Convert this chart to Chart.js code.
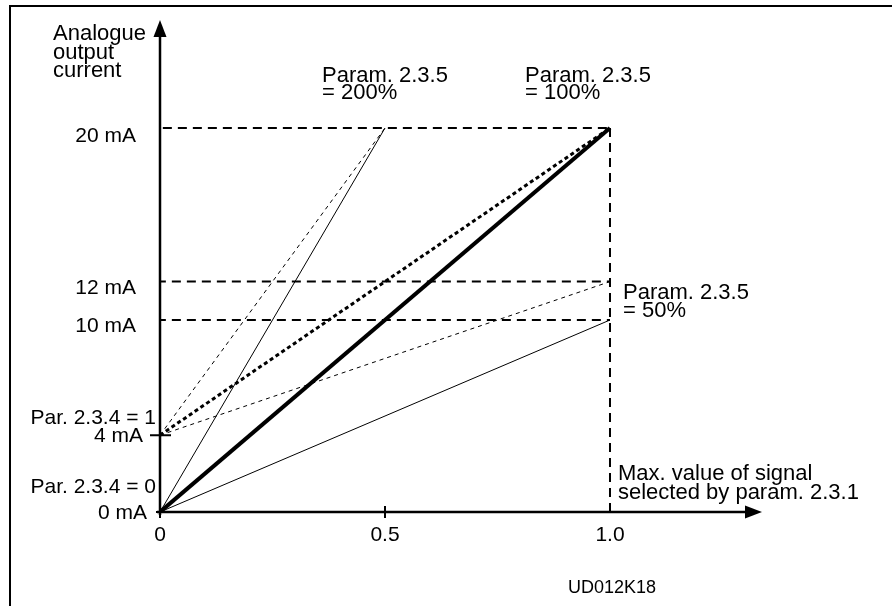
<!DOCTYPE html>
<html>
<head>
<meta charset="utf-8">
<script src="https://cdn.jsdelivr.net/npm/chart.js@4.4.1/dist/chart.umd.min.js"></script>
<style>
  html, body { margin: 0; padding: 0; background: #fff; }
  #wrap { width: 892px; height: 606px; }
</style>
</head>
<body>
<div id="wrap"><canvas id="c" width="892" height="606"></canvas></div>
<script>
// ---- data ----
const xTickValues = [0, 0.5, 1.0];
const xTickLabels = ['0', '0.5', '1.0'];
const yTickValues = [0, 4, 10, 12, 20];
const yTickLabels = ['0 mA', '4 mA', '10 mA', '12 mA', '20 mA'];

// Par. 2.3.4 = 0 (0 mA at zero signal)
const par0Scale200 = [{x: 0, y: 0}, {x: 0.5, y: 20}];
const par0Scale100 = [{x: 0, y: 0}, {x: 1.0, y: 20}];
const par0Scale50  = [{x: 0, y: 0}, {x: 1.0, y: 10}];
// Par. 2.3.4 = 1 (4 mA at zero signal)
const par1Scale200 = [{x: 0, y: 4}, {x: 0.5, y: 20}];
const par1Scale100 = [{x: 0, y: 4}, {x: 1.0, y: 20}];
const par1Scale50  = [{x: 0, y: 4}, {x: 1.0, y: 12}];
// guide lines
const guide20 = [{x: -0.027, y: 20}, {x: 1.0, y: 20}];
const guide12 = [{x: -0.007, y: 12}, {x: 1.0, y: 12}];
const guide10 = [{x: -0.007, y: 10}, {x: 1.0, y: 10}];
const guideMax = [{x: 1.0, y: 20}, {x: 1.0, y: 0}];

const FONT = "'Liberation Sans', Arial, sans-serif";

function ds(data, width, dash) {
  return {
    data: data, showLine: true, borderColor: '#000', borderWidth: width,
    borderDash: dash || [], pointRadius: 0, fill: false, tension: 0,
    borderCapStyle: 'butt'
  };
}

const overlay = {
  id: 'overlay',
  afterDraw(chart) {
    const ctx = chart.ctx;
    const xs = chart.scales.x, ys = chart.scales.y;
    const ca = chart.chartArea;
    const X = v => xs.getPixelForValue(v), Y = v => ys.getPixelForValue(v);
    const x0 = X(0), y0 = Y(0);
    ctx.save();
    ctx.strokeStyle = '#000';
    ctx.fillStyle = '#000';
    // frame (top & left)
    ctx.lineWidth = 2;
    ctx.beginPath();
    ctx.moveTo(10, 606); ctx.lineTo(10, 6); ctx.lineTo(892, 6);
    ctx.stroke();
    // axes
    ctx.lineWidth = 2.5;
    ctx.beginPath();
    ctx.moveTo(x0, y0 + 3); ctx.lineTo(x0, ca.top + 14);
    ctx.moveTo(x0 - 3, y0); ctx.lineTo(ca.right - 14, y0);
    ctx.stroke();
    // arrows
    ctx.beginPath();
    ctx.moveTo(x0, ca.top); ctx.lineTo(x0 - 6.5, ca.top + 17); ctx.lineTo(x0 + 6.5, ca.top + 17); ctx.closePath();
    ctx.fill();
    ctx.beginPath();
    ctx.moveTo(ca.right, y0); ctx.lineTo(ca.right - 17, y0 - 6.5); ctx.lineTo(ca.right - 17, y0 + 6.5); ctx.closePath();
    ctx.fill();
    // tick marks
    ctx.lineWidth = 2;
    ctx.beginPath();
    ctx.moveTo(X(0.5), y0 - 6); ctx.lineTo(X(0.5), y0 + 6);
    ctx.moveTo(x0, y0); ctx.lineTo(x0, y0 + 6);
    ctx.moveTo(x0 - 10, Y(4)); ctx.lineTo(x0 + 11, Y(4));
    ctx.moveTo(x0 - 4, y0); ctx.lineTo(x0, y0);
    ctx.stroke();

    ctx.font = '21px ' + FONT;
    ctx.textBaseline = 'alphabetic';
    // y tick labels
    ctx.textAlign = 'right';
    const yLabelOffsets = {0: 7, 4: 7, 10: 12, 12: 12, 20: 14};
    yTickValues.forEach((v, i) => {
      const right = (v === 20 || v === 12 || v === 10) ? x0 - 24 : (v === 4 ? x0 - 17 : x0 - 13);
      ctx.fillText(yTickLabels[i], right, Y(v) + yLabelOffsets[v]);
    });
    // x tick labels
    ctx.textAlign = 'center';
    xTickValues.forEach((v, i) => {
      ctx.fillText(xTickLabels[i], X(v), y0 + 29);
    });
    // parameter 2.3.4 labels
    ctx.textAlign = 'right';
    ctx.fillText('Par. 2.3.4 = 1', x0 - 4, Y(4) - 11);
    ctx.fillText('Par. 2.3.4 = 0', x0 - 4, y0 - 19);
    // axis title
    ctx.font = '22px ' + FONT;
    ctx.textAlign = 'left';
    ctx.fillText('Analogue', 53, 40);
    ctx.fillText('output', 53, 59);
    ctx.fillText('current', 53, 77);
    // scale annotations
    ctx.fillText('Param. 2.3.5', X(0.5) - 63, 82);
    ctx.fillText('= 200%', X(0.5) - 63, 99);
    ctx.fillText('Param. 2.3.5', X(1.0) - 85, 82);
    ctx.fillText('= 100%', X(1.0) - 85, 99);
    ctx.fillText('Param. 2.3.5', X(1.0) + 13, Y(12) + 17);
    ctx.fillText('= 50%', X(1.0) + 13, Y(12) + 35);
    ctx.fillText('Max. value of signal', X(1.0) + 8, y0 - 32);
    ctx.fillText('selected by param. 2.3.1', X(1.0) + 8, y0 - 13);
    ctx.font = '18px ' + FONT;
    ctx.fillText('UD012K18', 568, 593);
    ctx.restore();
  }
};

new Chart(document.getElementById('c'), {
  type: 'scatter',
  data: {
    datasets: [
      ds(par0Scale100, 4),
      ds(par1Scale100, 3, [4, 3]),
      ds(par0Scale200, 1),
      ds(par0Scale50, 1),
      ds(par1Scale200, 1, [4, 4]),
      ds(par1Scale50, 1, [4, 4]),
      ds(guide20, 2, [9, 6]),
      ds(guide12, 2, [9, 6]),
      ds(guide10, 2, [9, 6]),
      ds(guideMax, 2, [9, 6])
    ]
  },
  options: {
    responsive: false,
    animation: false,
    events: [],
    layout: { padding: { left: 160, right: 130, top: 20, bottom: 94 } },
    plugins: { legend: { display: false }, tooltip: { enabled: false } },
    scales: {
      x: { type: 'linear', display: false, min: 0, max: 1.3378 },
      y: { type: 'linear', display: false, min: 0, max: 25.625 }
    }
  },
  plugins: [overlay]
});
</script>
</body>
</html>
